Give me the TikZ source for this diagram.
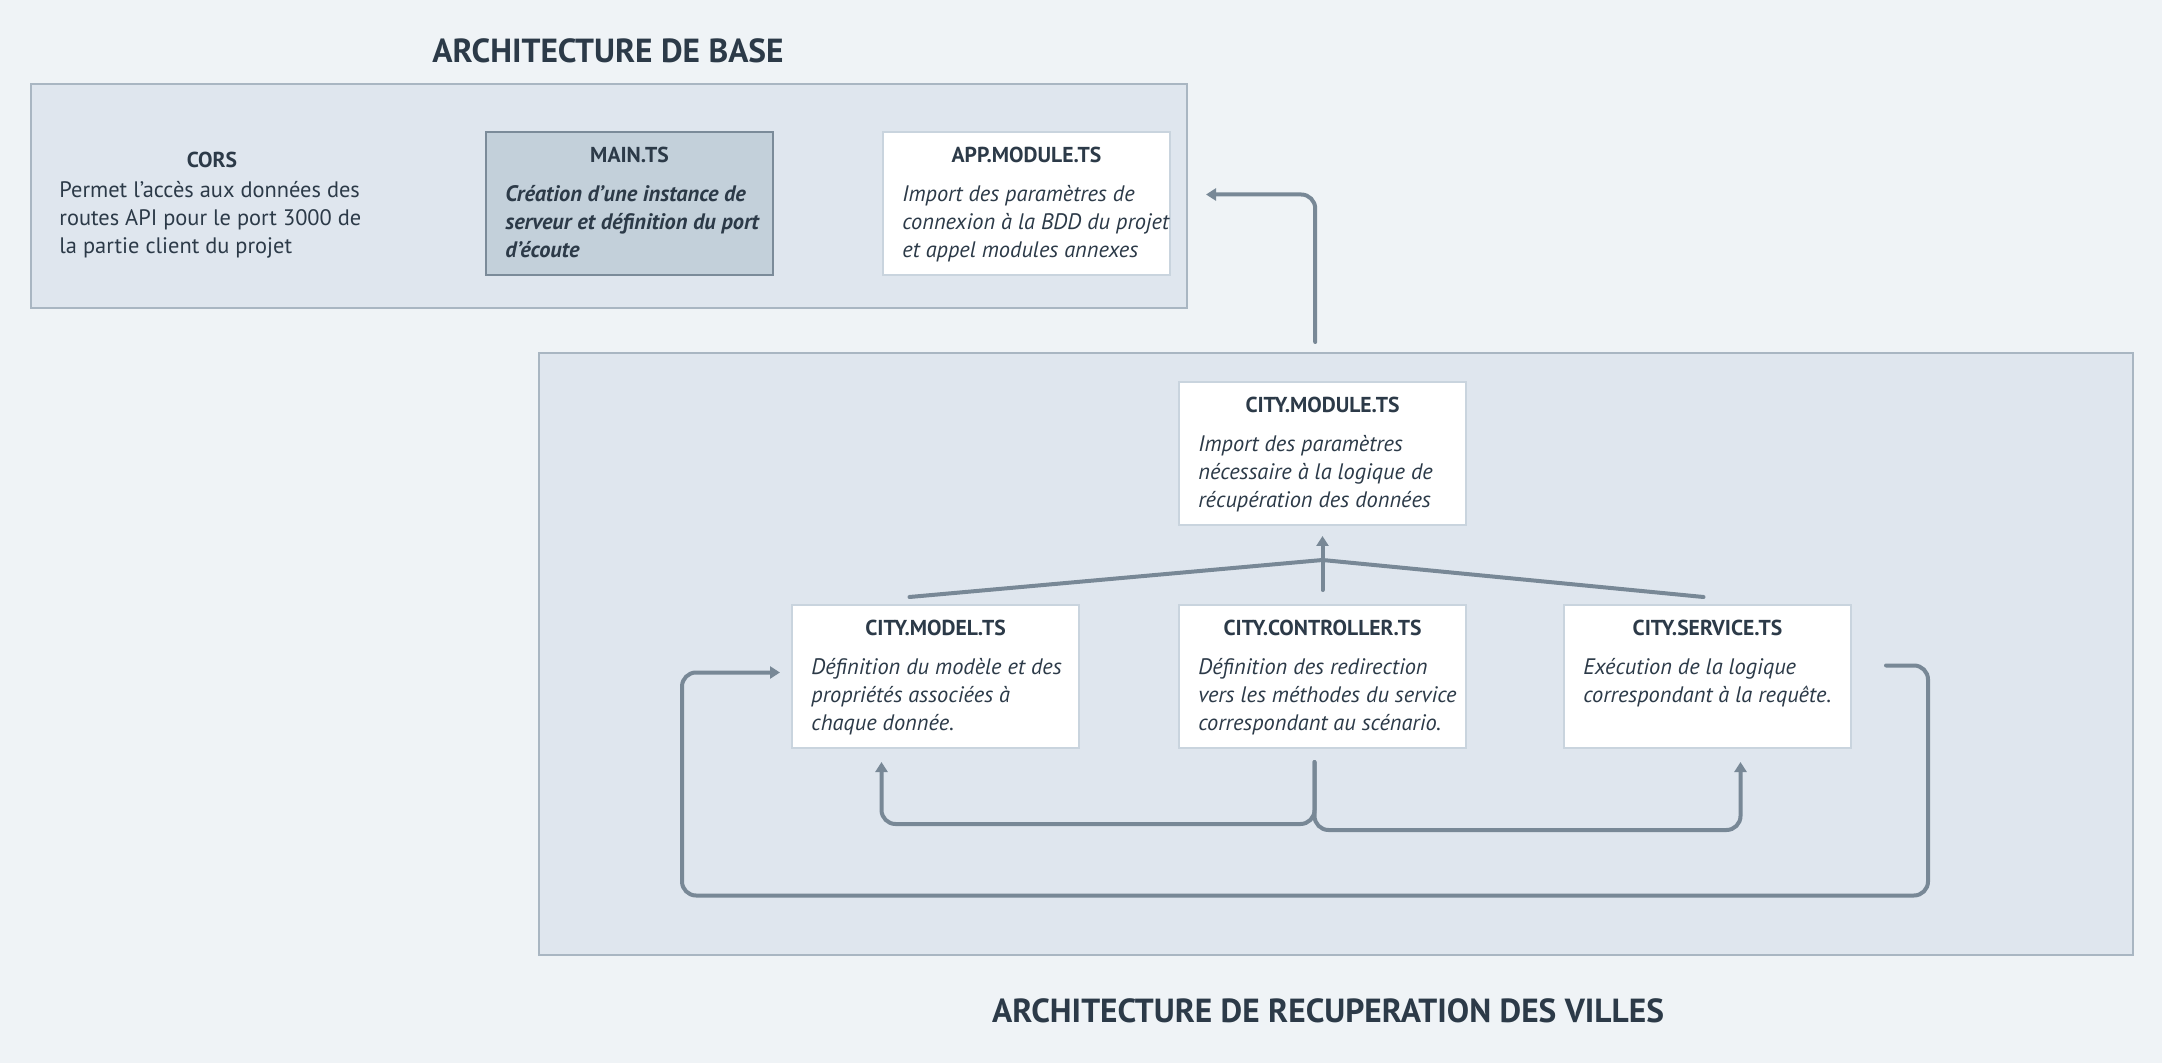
\documentclass[tikz,border=0pt]{standalone}
\usepackage{fontspec}
\setmainfont{PT Sans}
\usepackage{xcolor}
\usetikzlibrary{arrows.meta,calc,positioning}

\definecolor{pagebg}{HTML}{EFF3F6}
\definecolor{zonefill}{HTML}{DFE6EE}
\definecolor{zoneline}{HTML}{A9B6C2}
\definecolor{boxline}{HTML}{C9D4DE}
\definecolor{mainfill}{HTML}{C3D0DA}
\definecolor{mainline}{HTML}{7B8B99}
\definecolor{linkcol}{HTML}{788896}
\definecolor{inkcol}{HTML}{2C3A48}

\tikzstyle{zone}=[rectangle, draw=zoneline, fill=zonefill, line width=1.2pt, anchor=north west, inner sep=0]
\tikzstyle{filebox}=[rectangle, draw=boxline, fill=white, line width=1pt, minimum width=143.5pt, minimum height=71.5pt, inner sep=0]
\tikzstyle{mainbox}=[filebox, draw=mainline, fill=mainfill]
\tikzstyle{boxtitle}=[font=\fontsize{10.8}{13}\selectfont\bfseries, text=inkcol, inner sep=0]
\tikzstyle{boxtext}=[font=\fontsize{11.2}{14}\selectfont\itshape, text=inkcol, align=left, inner sep=0, anchor=north west]
\tikzstyle{zonetitle}=[font=\fontsize{16.7}{19}\selectfont\bfseries, text=inkcol]
\tikzstyle{link}=[draw=linkcol, line width=2pt, rounded corners=7pt, line cap=round]
\tikzstyle{linkarrow}=[link, -{Triangle[width=6pt,length=5pt]}]

\begin{document}
\begin{tikzpicture}[x=0.5pt, y=-0.5pt, node distance=39pt and 49pt]
	\fill[pagebg] (0,0) rectangle (2162,1063);
	\useasboundingbox (0,0) rectangle (2162,1063);

	\node[zonetitle] (basetitle) at (608,51) {ARCHITECTURE DE BASE};
	\node[zone, minimum width=578pt, minimum height=112pt] (basezone) at (30,83) {};

	\node[boxtitle] (corstitle) at (212,160) {CORS};
	\node[boxtext, font=\fontsize{11.2}{14}\selectfont] (corstext) at (59,181) {Permet l’accès aux données des\\routes API pour le port 3000 de\\la partie client du projet};

	\node[mainbox, anchor=north west] (maints) at (485,131) {};
	\node[filebox, right=54pt of maints] (appmodule) {};

	\node[boxtitle] (maintitle) at ([yshift=-12pt]maints.north) {MAIN.TS};
	\node[boxtext, font=\fontsize{11.2}{14}\selectfont\bfseries\itshape] (maintext) at ([xshift=10pt,yshift=-27pt]maints.north west) {Création d’une instance de\\serveur et définition du port\\d’écoute};

	\node[boxtitle] (apptitle) at ([yshift=-12pt]appmodule.north) {APP.MODULE.TS};
	\node[boxtext] (apptext) at ([xshift=10pt,yshift=-27pt]appmodule.north west) {Import des paramètres de\\connexion à la BDD du projet\\et appel modules annexes};

	\node[zone, minimum width=797pt, minimum height=301pt] (cityzone) at (538,352) {};

	\node[filebox, anchor=north west] (citymodule) at (1178,381) {};
	\node[filebox, below=39pt of citymodule] (citycontroller) {};
	\node[filebox, left=49pt of citycontroller] (citymodel) {};
	\node[filebox, right=48pt of citycontroller] (cityservice) {};

	\node[boxtitle] (moduletitle) at ([yshift=-12pt]citymodule.north) {CITY.MODULE.TS};
	\node[boxtext] (moduletext) at ([xshift=10pt,yshift=-27pt]citymodule.north west) {Import des paramètres\\nécessaire à la logique de\\récupération des données};

	\node[boxtitle] (modeltitle) at ([yshift=-12pt]citymodel.north) {CITY.MODEL.TS};
	\node[boxtext] (modeltext) at ([xshift=10pt,yshift=-27pt]citymodel.north west) {Définition du modèle et des\\propriétés associées à\\chaque donnée.};

	\node[boxtitle] (controllertitle) at ([yshift=-12pt]citycontroller.north) {CITY.CONTROLLER.TS};
	\node[boxtext] (controllertext) at ([xshift=10pt,yshift=-27pt]citycontroller.north west) {Définition des redirection\\vers les méthodes du service\\correspondant au scénario.};

	\node[boxtitle] (servicetitle) at ([yshift=-12pt]cityservice.north) {CITY.SERVICE.TS};
	\node[boxtext] (servicetext) at ([xshift=10pt,yshift=-27pt]cityservice.north west) {Exécution de la logique\\correspondant à la requête.};

	\node[zonetitle] (citytitle) at (1328,1011) {ARCHITECTURE DE RECUPERATION DES VILLES};

	\draw[linkarrow] ([xshift=-10.5pt,yshift=5pt]cityzone.north) |- ([xshift=17.5pt,yshift=4.5pt]appmodule.east);

	\coordinate (fork) at ([yshift=-17pt]citymodule.south);
	\draw[link, sharp corners] ([xshift=-13pt,yshift=3.5pt]citymodel.north) -- (fork) -- ([xshift=-2pt,yshift=3.5pt]cityservice.north);
	\draw[linkarrow] ([yshift=-32pt]citymodule.south) -- ([yshift=-5pt]citymodule.south);

	\coordinate (ctrlout) at ([xshift=-4pt,yshift=-6.5pt]citycontroller.south);
	\draw[linkarrow] (ctrlout) -- ++(0,62) -| ([xshift=-27pt,yshift=-6.5pt]citymodel.south);
	\draw[linkarrow] (ctrlout) -- ++(0,68) -| ([xshift=16.5pt,yshift=-6.5pt]cityservice.south);

	\draw[linkarrow] ([xshift=17pt,yshift=5.5pt]cityservice.east) -- ++(42,0) -- ++(0,230) -| ++(-1246,-223) -- ([xshift=-5.5pt,yshift=2pt]citymodel.west);
\end{tikzpicture}
\end{document}
